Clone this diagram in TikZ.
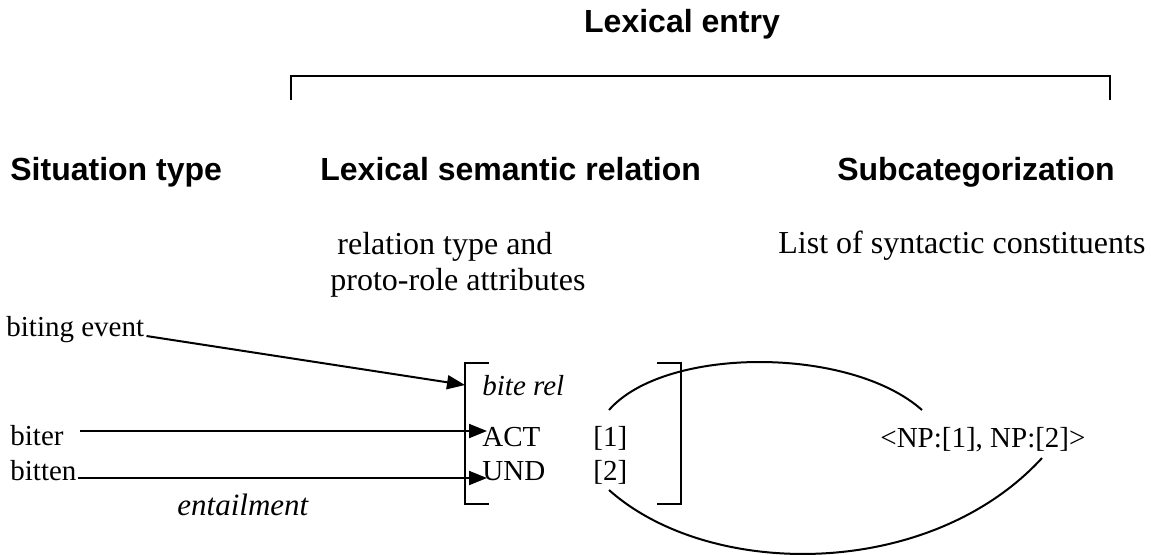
\documentclass[tikz,border=0pt]{standalone}
\usepackage{fontspec}
\setmainfont{Liberation Serif}
\newfontfamily\headfont{Liberation Sans}
\usetikzlibrary{arrows.meta}
\begin{document}
\begin{tikzpicture}[x=0.5pt,y=-0.5pt,
  head/.style={font=\headfont\bfseries\fontsize{16}{19}\selectfont, inner sep=0pt},
  body/.style={font=\fontsize{14.5}{17}\selectfont, inner sep=0pt},
  bigbody/.style={font=\fontsize{16}{19}\selectfont, inner sep=0pt},
  ln/.style={line width=1pt},
  arr/.style={line width=1pt, -{Triangle[length=9pt,width=7pt]}}]
\useasboundingbox (0,0) rectangle (1151,554);
% headings
\node[head, anchor=base] (le) at (682,32) {Lexical entry};
\node[head, anchor=base west] (st) at (10,180) {Situation type};
\node[head, anchor=base west] (lsr) at (320,180) {Lexical semantic relation};
\node[head, anchor=base east] (sc) at (1115,180) {Subcategorization};
% top bracket
\coordinate (tbl) at (291,100);
\coordinate (tbr) at (1110,100);
\draw[ln] (tbl) -- (291,76) -- (1110,76) -- (tbr);
% descriptions
\node[bigbody, anchor=base west] (rt) at (337,254) {relation type and};
\node[bigbody, anchor=base west] (pr) at (330,290) {proto-role attributes};
\node[bigbody, anchor=base west] (lsc) at (778,253) {List of syntactic constituents};
% situation side
\node[body, anchor=base west] (be) at (6,336) {biting event};
\node[body, anchor=base west] (biter) at (10,445) {biter};
\node[body, anchor=base west] (bitten) at (10,480) {bitten};
\node[body, font=\fontsize{15.5}{18}\selectfont\itshape, anchor=base west] (ent) at (177,515) {entailment};
% AVM
\node[body, anchor=base west] (br) at (482,395) {\itshape bite rel};
\node[body, anchor=base west] (act) at (482,446) {ACT};
\node[body, anchor=base west] (one) at (593,446) {[1]};
\node[body, anchor=base west] (und) at (482,480) {UND};
\node[body, anchor=base west] (two) at (593,480) {[2]};
\draw[ln] (489,363) -- (465,363) -- (465,504) -- (489,504);
\draw[ln] (657,363) -- (681,363) -- (681,504) -- (657,504);
% subcat
\node[body, anchor=base west] (np) at (880,447) {<NP:[1], NP:[2]>};
% arrows
\coordinate (beT) at (465,385);
\draw[arr] ([xshift=1pt]be.base east) -- (beT);
\coordinate (biE) at (80,431);
\coordinate (biT) at (487,431);
\draw[arr] (biE) -- (biT);
\coordinate (btE) at (78,478);
\coordinate (btT) at (487,478);
\draw[arr] (btE) -- (btT);
% curves
\coordinate (c1s) at (609,410);
\coordinate (c1e) at (922,410);
\draw[ln] (c1s) .. controls (665,346) and (850,346) .. (c1e);
\coordinate (c2s) at (609,490);
\coordinate (c2e) at (1042,458);
\draw[ln] (c2s) .. controls (710,580) and (930,580) .. (c2e);
\end{tikzpicture}
\end{document}
